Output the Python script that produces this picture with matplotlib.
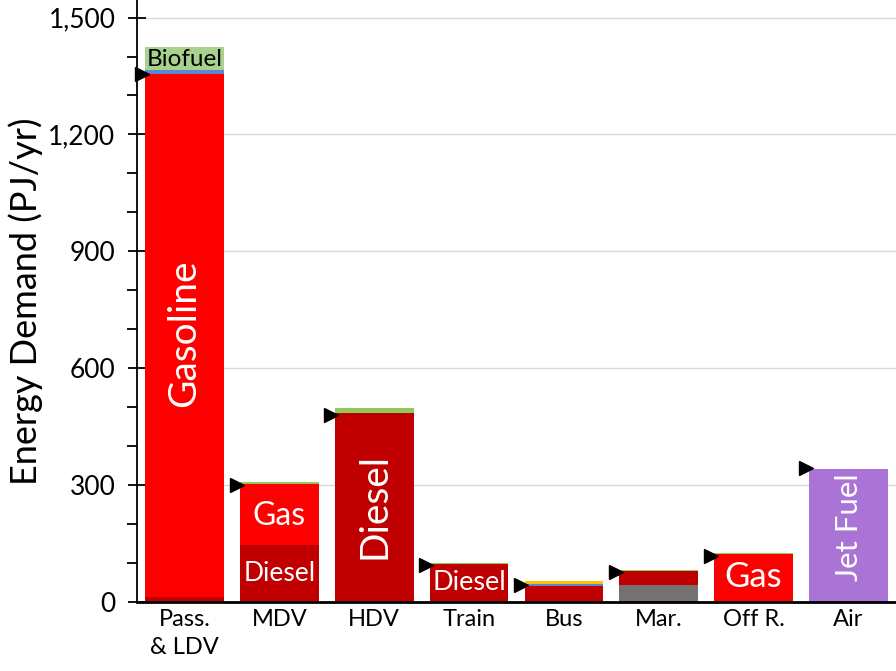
import numpy as np
import matplotlib
matplotlib.use("Agg")
import matplotlib.pyplot as plt
from matplotlib.ticker import MultipleLocator, FuncFormatter

plt.rcParams['font.family'] = ['Lato', 'DejaVu Sans']

categories = ["Pass.\n& LDV", "MDV", "HDV", "Train", "Bus", "Mar.", "Off R.", "Air"]

# stacked segments, bottom to top (PJ/yr)
heavy_fuel = [0, 0, 0, 0, 0, 44, 0, 0]
diesel = [13, 146, 485, 98, 41, 36, 0, 0]
gasoline = [1341, 157, 0, 0, 0, 0, 123, 0]
nat_gas = [11, 0, 0, 0, 5, 0, 0, 0]
electricity = [0, 0, 0, 0, 7, 0, 0, 0]
biofuel = [60, 6, 13, 1, 0, 2, 3, 0]
jet_fuel = [0, 0, 0, 0, 0, 0, 0, 342]

# black triangle markers (reference level)
marker_vals = [1355, 300, 480, 95, 44, 77, 118, 344]

segments = [
    (heavy_fuel, '#767171'),
    (diesel, '#C00000'),
    (gasoline, '#FF0000'),
    (nat_gas, '#5B87D0'),
    (electricity, '#FFC000'),
    (biofuel, '#8FCB5A'),
    (jet_fuel, '#A974D6'),
]

fig = plt.figure(figsize=(8.96, 6.71), dpi=100)
ax = fig.add_axes([0.1529, 0.1028, 0.8471, 0.8972])

x = np.arange(len(categories))
bw = 0.83
bottom = np.zeros(len(categories))
for vals, col in segments:
    vals = np.array(vals, dtype=float)
    ax.bar(x, vals, bw, bottom=bottom, color=col, linewidth=0, zorder=2)
    bottom += vals

# pale biofuel band on the passenger bar
ax.bar(x[0], biofuel[0], bw, bottom=bottom[0] - biofuel[0], color='#A9D18E', linewidth=0, zorder=2)

ax.plot(x - 0.45, marker_vals, linestyle='none', marker='>', color='black',
        markersize=10, zorder=4, clip_on=False)

# segment labels
ax.text(x[0], 690, "Gasoline", rotation=90, color='white', fontsize=28,
        ha='center', va='center', zorder=5)
ax.text(x[0], 1393, "Biofuel", color='black', fontsize=17.5,
        ha='center', va='center', zorder=5)
ax.text(x[1], 220, "Gas", color='white', fontsize=23, ha='center', va='center', zorder=5)
ax.text(x[1], 72, "Diesel", color='white', fontsize=19, ha='center', va='center', zorder=5)
ax.text(x[2], 246, "Diesel", rotation=90, color='white', fontsize=28,
        ha='center', va='center', zorder=5)
ax.text(x[3], 49, "Diesel", color='white', fontsize=19.5, ha='center', va='center', zorder=5)
ax.text(x[6], 63, "Gas", color='white', fontsize=25, ha='center', va='center', zorder=5)
ax.text(x[7], 192, "Jet Fuel", rotation=90, color='white', fontsize=22.5,
        ha='center', va='center', zorder=5)

ax.set_xlim(-0.5, len(categories) - 0.5)
ax.set_ylim(0, 1545)
ax.set_xticks(x)
ax.set_xticklabels(categories, fontsize=17, linespacing=1.4)
ax.tick_params(axis='x', length=0, pad=5)

ax.yaxis.set_major_locator(MultipleLocator(300))
ax.yaxis.set_minor_locator(MultipleLocator(100))
ax.yaxis.set_major_formatter(FuncFormatter(lambda v, p: f"{int(v):,}"))
ax.tick_params(axis='y', which='major', direction='inout', length=13, width=1.3,
               labelsize=19, pad=9)
ax.tick_params(axis='y', which='minor', direction='out', length=7, width=1.3)
ax.set_ylabel("Energy Demand (PJ/yr)", fontsize=26, labelpad=4)

ax.grid(axis='y', which='major', color='#D9D9D9', linewidth=1, zorder=0)
ax.set_axisbelow(True)

for s in ['top', 'right']:
    ax.spines[s].set_visible(False)
ax.spines['left'].set_linewidth(1.3)
ax.spines['bottom'].set_linewidth(2)

fig.savefig("out.png", dpi=100)
